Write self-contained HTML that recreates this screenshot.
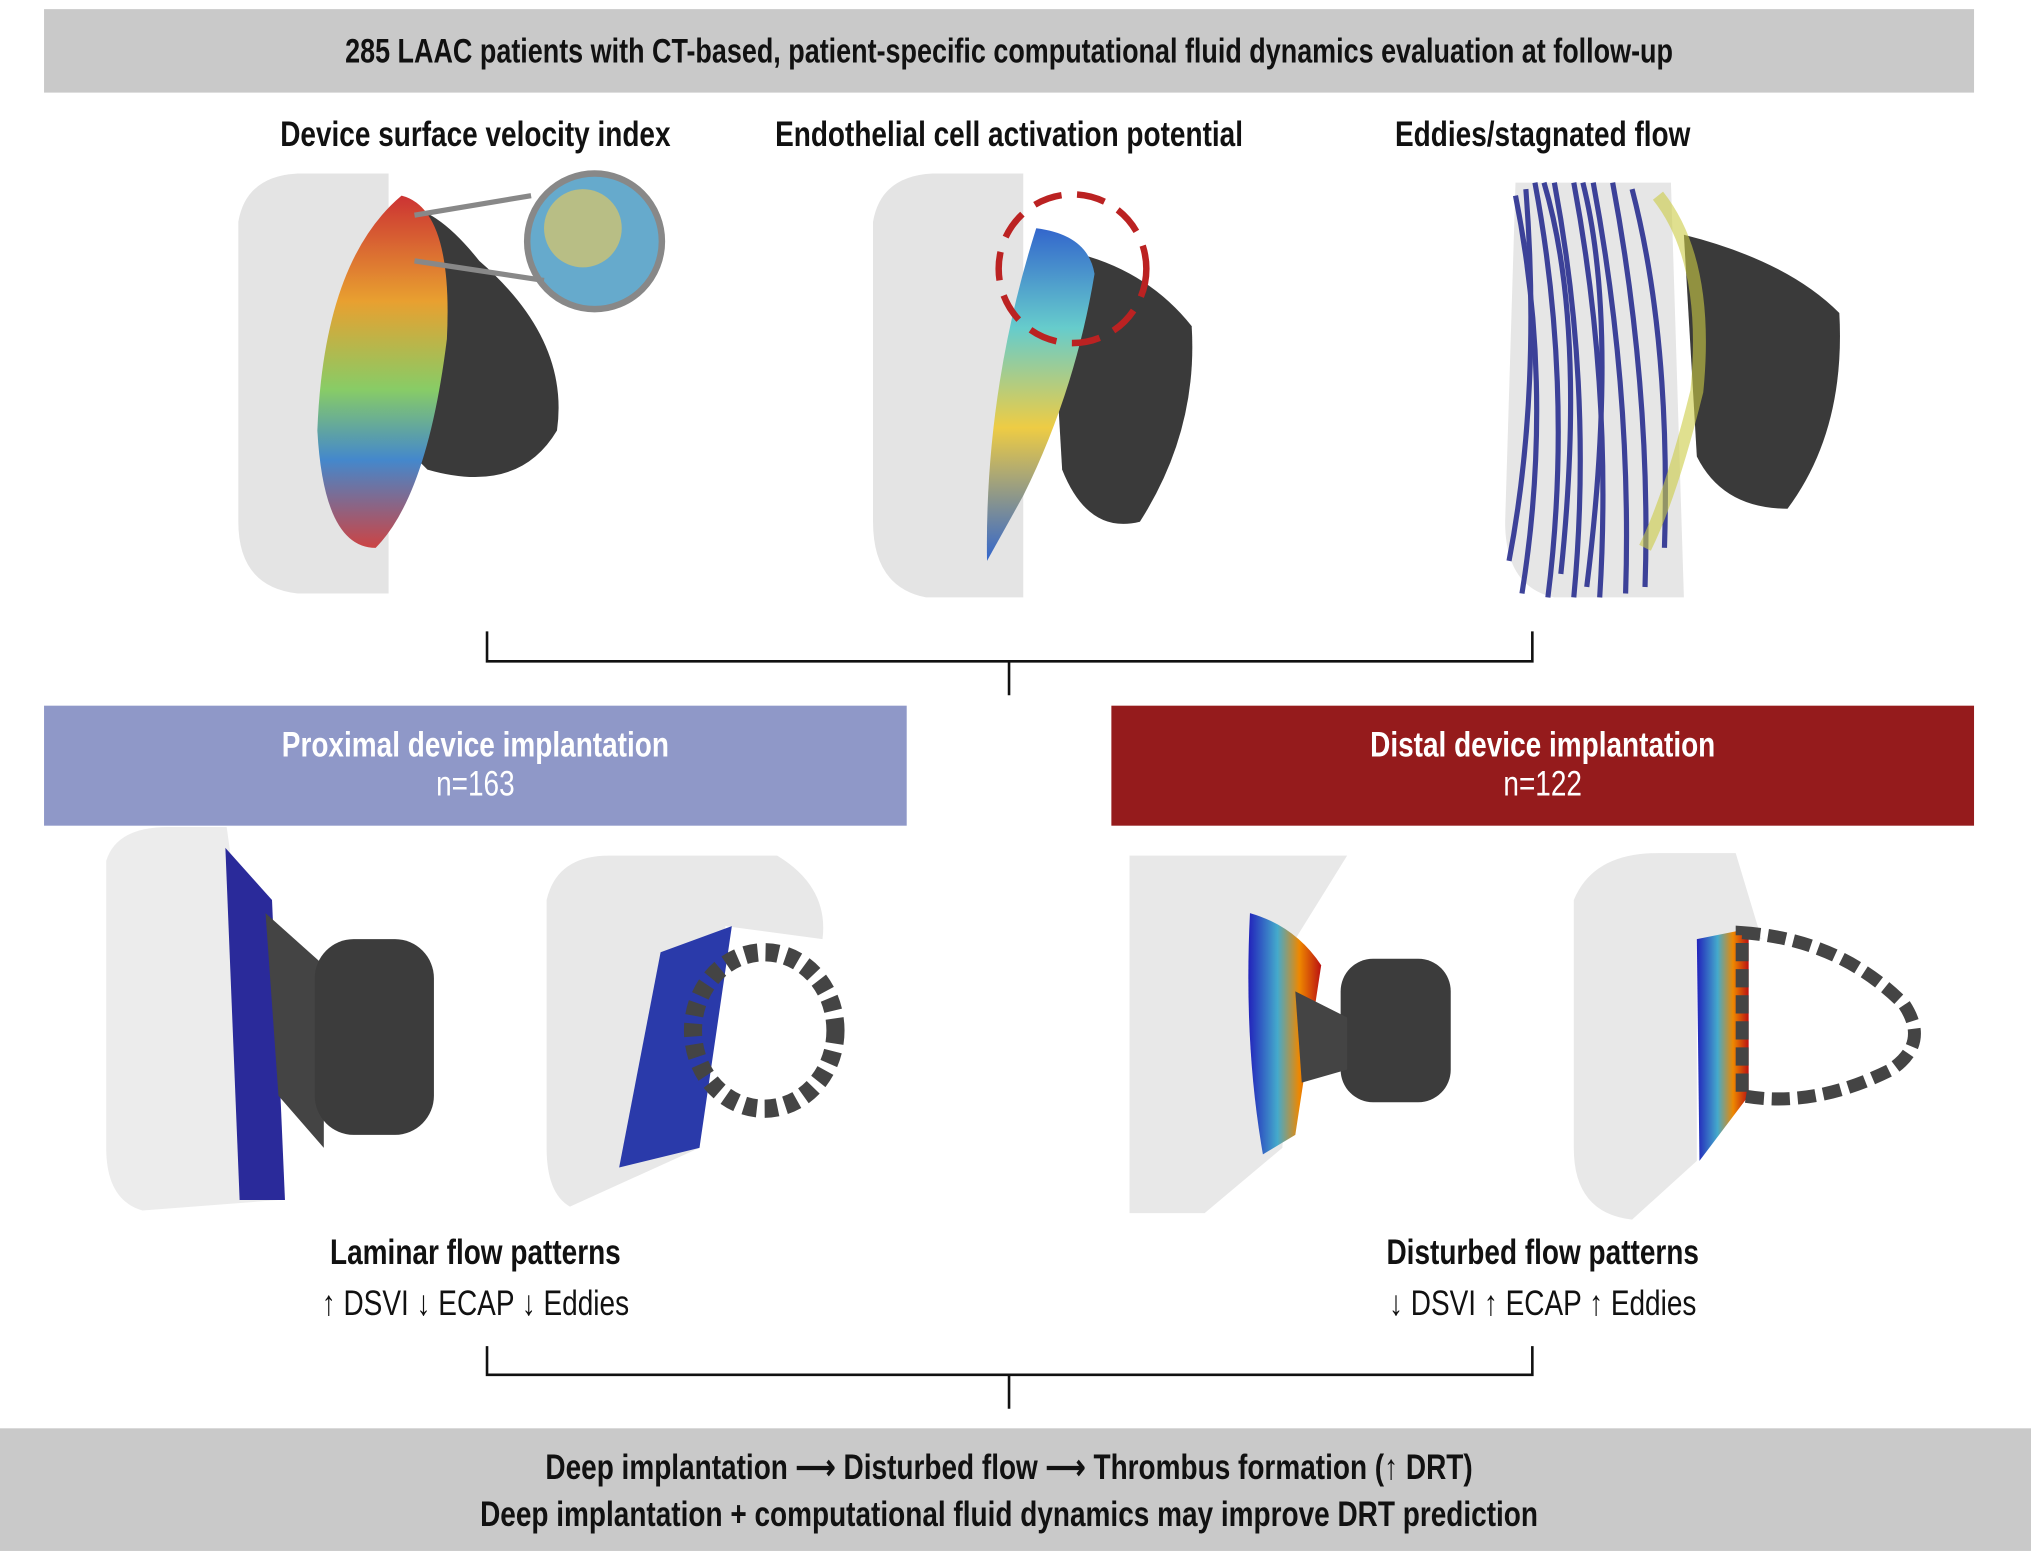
<!DOCTYPE html>
<html><head><meta charset="utf-8"><style>
html,body{margin:0;padding:0;background:#fff;width:2031px;height:1551px;overflow:hidden}
#w{position:absolute;left:0;top:0;width:1568px;height:1189px;transform:scale(1.2953,1.3044);transform-origin:0 0;font-family:"Liberation Sans Narrow","Liberation Sans",sans-serif;color:#111}
.a{position:absolute}
.t{position:absolute;text-align:center;white-space:nowrap;transform:translateX(-50%) scaleX(.8);transform-origin:center}
.b{font-weight:bold}
</style></head><body><div id="w">
<div class="a" style="left:34px;top:7px;width:1490px;height:64px;background:#c9c9c9"></div>
<div class="t b" style="left:779px;top:24px;font-size:26px">285 LAAC patients with CT-based, patient-specific computational fluid dynamics evaluation at follow-up</div>
<div class="t b" style="left:367px;top:88px;font-size:27px">Device surface velocity index</div>
<div class="t b" style="left:779px;top:88px;font-size:27px">Endothelial cell activation potential</div>
<div class="t b" style="left:1191px;top:88px;font-size:27px">Eddies/stagnated flow</div>

<svg class="a" style="left:0;top:0" width="1568" height="1189">
<defs>
<linearGradient id="g1" x1="0" y1="0" x2="0" y2="1"><stop offset="0" stop-color="#c33"/><stop offset=".3" stop-color="#e8a030"/><stop offset=".55" stop-color="#8c6"/><stop offset=".75" stop-color="#48c"/><stop offset="1" stop-color="#c44"/></linearGradient>
<linearGradient id="g2" x1="0" y1="0" x2="0" y2="1"><stop offset="0" stop-color="#36c"/><stop offset=".3" stop-color="#6cc"/><stop offset=".6" stop-color="#ec4"/><stop offset="1" stop-color="#36c"/></linearGradient>
<linearGradient id="g3" x1="0" y1="0" x2="1" y2="0"><stop offset="0" stop-color="#22b"/><stop offset=".4" stop-color="#4ac"/><stop offset=".7" stop-color="#e80"/><stop offset="1" stop-color="#b11"/></linearGradient>
</defs>
<path d="M184 170 Q190 135 230 133 L300 133 L300 455 L230 455 Q184 450 184 400Z" fill="#e4e4e4"/>
<path d="M300 160 Q330 150 370 200 Q440 260 430 330 Q400 380 330 360 L300 330Z" fill="#3a3a3a"/>
<path d="M310 150 Q350 160 345 260 Q330 380 290 420 Q250 420 245 330 Q250 200 310 150Z" fill="url(#g1)"/>
<circle cx="459" cy="185" r="52" fill="#6ac" stroke="#888" stroke-width="5"/>
<circle cx="450" cy="175" r="30" fill="#ec5" opacity=".6"/>
<path d="M320 165 L410 150 M320 200 L420 215" stroke="#888" stroke-width="4" fill="none"/>
<path d="M674 170 Q680 135 720 133 L790 133 L790 458 L715 458 Q674 450 674 400Z" fill="#e4e4e4"/>
<path d="M810 190 Q880 200 920 250 Q925 330 880 400 Q840 410 820 360Z" fill="#3a3a3a"/>
<path d="M800 175 Q840 180 845 210 Q830 300 790 380 L762 430 Q760 300 800 175Z" fill="url(#g2)"/>
<circle cx="828" cy="206" r="57" fill="none" stroke="#b22" stroke-width="5" stroke-dasharray="22 12"/>
<path d="M1170 140 L1290 140 L1300 458 L1200 458 Q1162 450 1162 400Z" fill="#e6e6e6"/>
<g stroke="#2a3090" stroke-width="4" fill="none" opacity=".9">
<path d="M1170 150 Q1200 300 1175 455"/><path d="M1185 140 Q1215 300 1195 458"/><path d="M1200 140 Q1230 300 1215 458"/><path d="M1215 140 Q1245 300 1235 458"/><path d="M1230 140 Q1260 300 1255 455"/><path d="M1245 140 Q1275 300 1270 450"/><path d="M1178 145 Q1190 300 1165 430"/><path d="M1260 145 Q1290 260 1285 420"/><path d="M1192 140 Q1225 250 1205 440"/><path d="M1222 140 Q1250 250 1225 450"/>
</g>
<path d="M1300 180 Q1380 200 1420 240 Q1425 330 1380 390 Q1330 390 1310 350Z" fill="#3a3a3a"/>
<path d="M1280 150 Q1320 200 1310 300 Q1290 380 1270 420" stroke="#cc4" stroke-width="10" fill="none" opacity=".6"/>
<path d="M376 484 V507 H1183 V484 M779 507 V533" stroke="#111" stroke-width="2" fill="none"/>
<path d="M82 660 Q90 634 130 634 L175 634 L215 920 L110 928 Q82 920 82 880Z" fill="#ececec"/>
<path d="M174 650 L210 690 L220 920 L185 920Z" fill="#2a2a9a"/>
<path d="M205 700 L250 740 L250 880 L215 840Z" fill="#444"/>
<rect x="243" y="720" width="92" height="150" rx="30" fill="#3c3c3c"/>
<path d="M422 690 Q430 656 470 656 L600 656 Q640 680 635 720 L560 710 L540 880 L440 925 Q422 915 422 880Z" fill="#e8e8e8"/>
<path d="M510 730 L565 710 L540 880 L478 895Z" fill="#2a3aaa"/>
<ellipse cx="590" cy="790" rx="55" ry="60" fill="none" stroke="#444" stroke-width="14" stroke-dasharray="10 6"/>
<path d="M872 656 L1040 656 L1000 720 L990 880 L930 930 L872 930Z" fill="#e8e8e8"/>
<path d="M965 700 Q1000 710 1020 740 L1000 870 L975 885 Q960 800 965 700Z" fill="url(#g3)"/>
<rect x="1035" y="735" width="85" height="110" rx="25" fill="#3c3c3c"/>
<path d="M1000 760 L1040 780 L1040 820 L1005 830Z" fill="#444"/>
<path d="M1215 690 Q1230 654 1280 654 L1340 654 L1360 720 L1310 720 L1310 890 L1260 935 Q1215 930 1215 880Z" fill="#e8e8e8"/>
<path d="M1310 720 L1350 712 L1350 840 L1312 890Z" fill="url(#g3)"/>
<path d="M1345 715 Q1420 720 1470 770 Q1490 800 1460 820 Q1400 850 1345 840Z" fill="none" stroke="#444" stroke-width="10" stroke-dasharray="14 6"/>
<path d="M376 1032 V1054 H1183 V1032 M779 1054 V1080" stroke="#111" stroke-width="2" fill="none"/>
</svg>

<div class="a" style="left:34px;top:541px;width:666px;height:92px;background:#8f98c8"></div>
<div class="a" style="left:858px;top:541px;width:666px;height:92px;background:#951b1c"></div>
<div class="t" style="left:367px;top:556px;font-size:27px;color:#fff;line-height:30px"><b>Proximal device implantation</b><br>n=163</div>
<div class="t" style="left:1191px;top:556px;font-size:27px;color:#fff;line-height:30px"><b>Distal device implantation</b><br>n=122</div>

<div class="t b" style="left:367px;top:945px;font-size:27px">Laminar flow patterns</div>
<div class="t" style="left:367px;top:984px;font-size:27px">↑ DSVI ↓ ECAP ↓ Eddies</div>
<div class="t b" style="left:1191px;top:945px;font-size:27px">Disturbed flow patterns</div>
<div class="t" style="left:1191px;top:984px;font-size:27px">↓ DSVI ↑ ECAP ↑ Eddies</div>

<div class="a" style="left:0;top:1095px;width:1568px;height:94px;background:#c9c9c9"></div>
<div class="t b" style="left:779px;top:1110px;font-size:27px">Deep implantation ⟶ Disturbed flow ⟶ Thrombus formation (↑ DRT)</div>
<div class="t b" style="left:779px;top:1146px;font-size:27px">Deep implantation + computational fluid dynamics may improve DRT prediction</div>
</div></body></html>
